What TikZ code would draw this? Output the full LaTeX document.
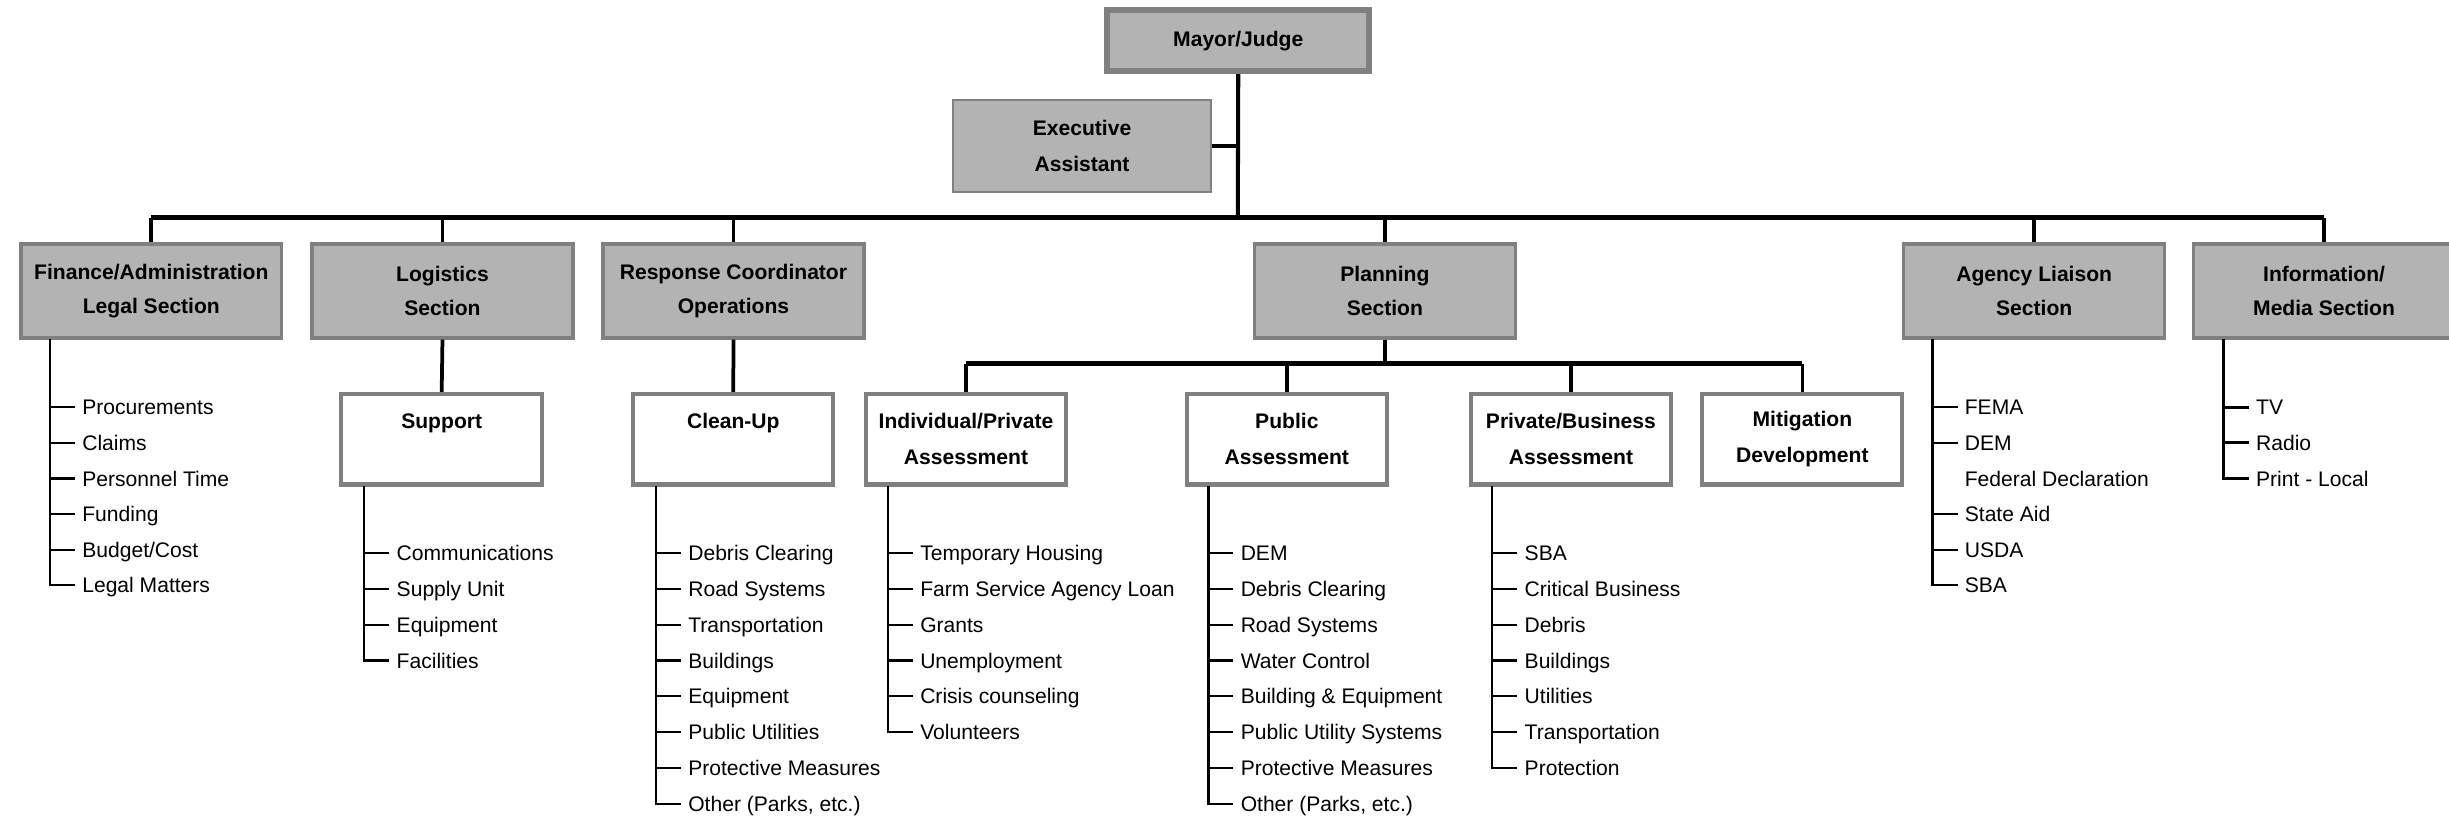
\documentclass[tikz,border=0pt]{standalone}
\usepackage{fontspec}
\setmainfont{Liberation Sans}
\definecolor{boxfill}{HTML}{B3B3B3}
\definecolor{boxline}{HTML}{808080}
\tikzset{
  topbox/.style={draw=boxline, fill=boxfill, line width=2.2pt, align=center, inner sep=0pt,
    minimum width=167pt, minimum height=60pt, font=\bfseries\fontsize{13.5}{21.5}\selectfont},
  subbox/.style={draw=boxline, fill=white, line width=2.6pt, align=center, inner sep=0pt,
    minimum width=128pt, minimum height=58pt, font=\bfseries\fontsize{13.5}{23}\selectfont},
  item/.style={anchor=west, inner xsep=4.5pt, inner ysep=0pt, text height=9.6pt, text depth=0pt,
    font=\fontsize{13.5}{16}\selectfont},
  busline/.style={line width=3.2pt},
  drop/.style={line width=2.4pt},
  stem/.style={line width=1.4pt},
}
\begin{document}
\begin{tikzpicture}[x=1pt, y=-1pt]
  \useasboundingbox (0,0) rectangle (1568,528);

  % top of the chart
  \node [topbox, line width=3.8pt, minimum width=168pt, minimum height=39pt] (mayor) at (792.8,26) {Mayor/Judge};
  \node [topbox, line width=1.1pt, minimum width=165pt, minimum height=59pt,
         font=\bfseries\fontsize{13.5}{23.5}\selectfont] (exec) at (692.8,93.5) {Executive\\Assistant};
  \coordinate (bus) at (792.5,139.4);
  \draw [line width=2.6pt] (mayor.south) -- (bus);
  \draw [line width=2.6pt] (exec.east) -- (exec.east -| bus);

  % sections
  \node [topbox] (fin) at (96.9,186.3) {Finance/Administration\\Legal Section};
  \node [topbox] (log) at (283.3,186.3) {Logistics\\Section};
  \node [topbox] (resp) at (469.6,186.3) {Response Coordinator\\Operations};
  \node [topbox] (plan) at (886.7,186.3) {Planning\\Section};
  \node [topbox] (agency) at (1302.4,186.3) {Agency Liaison\\Section};
  \node [topbox] (info) at (1488,186.3) {Information/\\Media Section};
  \draw [busline] (fin.north |- bus) -- (info.north |- bus);
  \foreach \n in {fin,log,resp,plan,agency,info}
    \draw [drop] (\n.north |- bus) -- (\n.north);

  % boxes under the sections
  \node [subbox, minimum width=129pt] (support) at (282.8,281.2) {Support\\\phantom{A}};
  \node [subbox] (cleanup) at (469.5,281.2) {Clean-Up\\\phantom{A}};
  \node [subbox] (indiv) at (618.5,281.2) {Individual/Private\\Assessment};
  \node [subbox] (public) at (823.9,281.2) {Public\\Assessment};
  \node [subbox] (private) at (1005.8,281.2) {Private/Business\\Assessment};
  \node [subbox] (mitig) at (1154,281.2) {Mitigation\\Development};
  \draw [drop] (log.south) -- (support.north);
  \draw [drop] (resp.south) -- (cleanup.north);
  \coordinate (pbus) at (886.7,233);
  \draw [drop] (plan.south) -- (pbus);
  \draw [busline] (indiv.north |- pbus) -- (mitig.north |- pbus);
  \foreach \n in {indiv,public,private,mitig}
    \draw [drop] (\n.north |- pbus) -- (\n.north);

  % finance list
  \coordinate (finstem) at (32,217);
  \foreach \t [count=\i] in {Procurements,Claims,Personnel Time,Funding,Budget/Cost,Legal Matters}
    \node [item] (fin\i) at (48,238+22.8*\i) {\t};
  \draw [stem] (finstem) |- (fin6.west);
  \foreach \i in {1,...,5} \draw [stem] (finstem |- fin\i.west) -- (fin\i.west);

  % support list
  \coordinate (supstem) at (233.3,311);
  \foreach \t [count=\i] in {Communications,Supply Unit,Equipment,Facilities}
    \node [item] (sup\i) at (249.3,331.3+22.9*\i) {\t};
  \draw [stem] (supstem) |- (sup4.west);
  \foreach \i in {1,...,3} \draw [stem] (supstem |- sup\i.west) -- (sup\i.west);

  % clean-up list
  \coordinate (clstem) at (420,311);
  \foreach \t [count=\i] in {Debris Clearing,Road Systems,Transportation,Buildings,Equipment,Public Utilities,Protective Measures,{Other (Parks, etc.)}}
    \node [item] (cl\i) at (436,331.3+22.9*\i) {\t};
  \draw [stem] (clstem) |- (cl8.west);
  \foreach \i in {1,...,7} \draw [stem] (clstem |- cl\i.west) -- (cl\i.west);

  % individual list
  \coordinate (indstem) at (568.5,311);
  \foreach \t [count=\i] in {Temporary Housing,Farm Service Agency Loan,Grants,Unemployment,Crisis counseling,Volunteers}
    \node [item] (ind\i) at (584.5,331.3+22.9*\i) {\t};
  \draw [stem] (indstem) |- (ind6.west);
  \foreach \i in {1,...,5} \draw [stem] (indstem |- ind\i.west) -- (ind\i.west);

  % public list
  \coordinate (pubstem) at (773.7,311);
  \foreach \t [count=\i] in {DEM,Debris Clearing,Road Systems,Water Control,Building \& Equipment,Public Utility Systems,Protective Measures,{Other (Parks, etc.)}}
    \node [item] (pub\i) at (789.7,331.3+22.9*\i) {\t};
  \draw [stem] (pubstem) |- (pub8.west);
  \foreach \i in {1,...,7} \draw [stem] (pubstem |- pub\i.west) -- (pub\i.west);

  % private list
  \coordinate (pristem) at (955.5,311);
  \foreach \t [count=\i] in {SBA,Critical Business,Debris,Buildings,Utilities,Transportation,Protection}
    \node [item] (pri\i) at (971.5,331.3+22.9*\i) {\t};
  \draw [stem] (pristem) |- (pri7.west);
  \foreach \i in {1,...,6} \draw [stem] (pristem |- pri\i.west) -- (pri\i.west);

  % agency list
  \coordinate (agstem) at (1237.3,217);
  \foreach \t [count=\i] in {FEMA,DEM,Federal Declaration,State Aid,USDA,SBA}
    \node [item] (ag\i) at (1253.3,238+22.8*\i) {\t};
  \draw [stem] (agstem) |- (ag6.west);
  \foreach \i in {1,2,4,5} \draw [stem] (agstem |- ag\i.west) -- (ag\i.west);

  % media list
  \coordinate (medstem) at (1423.8,217);
  \foreach \t [count=\i] in {TV,Radio,Print - Local}
    \node [item] (med\i) at (1439.8,238+22.8*\i) {\t};
  \draw [stem, line width=1.9pt] (medstem) |- (med3.west);
  \foreach \i in {1,2} \draw [stem, line width=1.9pt] (medstem |- med\i.west) -- (med\i.west);
\end{tikzpicture}
\end{document}
